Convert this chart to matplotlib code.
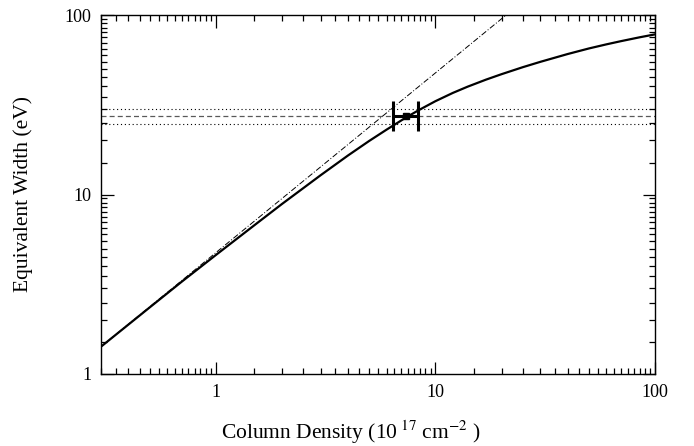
import numpy as np
import matplotlib
matplotlib.use("Agg")
import matplotlib.pyplot as plt
from matplotlib.ticker import FixedFormatter, FixedLocator, NullFormatter

plt.rcParams["font.family"] = ["Liberation Serif", "DejaVu Serif"]
plt.rcParams["mathtext.fontset"] = "stix"

# curve of growth
col_density = [0.3, 0.5, 0.7, 1.0, 1.5, 2.0, 3.0, 4.0, 5.0, 6.0, 7.4, 8.5, 10.0,
               12.0, 14.0, 17.0, 20.0, 25.0, 30.0, 40.0, 50.0, 60.0, 70.0, 85.0, 100.0]
eq_width = [1.42, 2.35, 3.27, 4.6, 6.75, 8.85, 12.8, 16.5, 19.9, 23.0, 27.0, 29.75, 33.1,
            36.8, 39.85, 43.65, 46.8, 51.2, 54.8, 60.6, 65.1, 68.6, 71.5, 75.1, 78.0]

# linear (optically thin) relation
linear_x = [0.3, 21.0]
linear_y = [1.42, 100.0]

# measured width with its range
meas_w = 27.2
meas_w_lo = 24.6
meas_w_hi = 29.8
meas_n = 7.35
meas_n_lo = 6.43
meas_n_hi = 8.35

xticks = [1, 10, 100]
xtick_labels = ["1", "10", "100"]
yticks = [1, 10, 100]
ytick_labels = ["1", "10", "100"]

fig = plt.figure(figsize=(6.94, 4.46), dpi=100)
ax = fig.add_axes([101 / 694, 1 - 374 / 446, 554 / 694, 359 / 446])

ax.axhline(meas_w, color="0.35", lw=0.9, ls=(0, (4, 2.5)))
ax.axhline(meas_w_lo, color="black", lw=0.8, ls=(0, (1, 2.5)))
ax.axhline(meas_w_hi, color="black", lw=0.8, ls=(0, (1, 2.5)))

ax.plot(linear_x, linear_y, color="black", lw=0.7, ls=(0, (6, 2, 1, 2)))
ax.plot(col_density, eq_width, color="black", lw=1.6)

ax.errorbar([meas_n], [meas_w],
            xerr=[[meas_n - meas_n_lo], [meas_n_hi - meas_n]],
            fmt="s", ms=4, color="black", ecolor="black",
            elinewidth=2.2, capsize=11, capthick=2.2)

ax.set_xscale("log")
ax.set_yscale("log")
ax.set_xlim(0.3, 100)
ax.set_ylim(1, 100)

# minor ticks every half unit inside each decade
subs = np.arange(1.5, 10.0, 0.5)
minor_pos = np.concatenate([subs * d for d in (0.1, 1.0, 10.0)])
ax.xaxis.set_minor_locator(FixedLocator(minor_pos[(minor_pos > 0.3) & (minor_pos < 100)]))
ax.yaxis.set_minor_locator(FixedLocator(minor_pos[(minor_pos > 1) & (minor_pos < 100)]))
ax.xaxis.set_minor_formatter(NullFormatter())
ax.yaxis.set_minor_formatter(NullFormatter())
ax.xaxis.set_major_locator(FixedLocator(xticks))
ax.xaxis.set_major_formatter(FixedFormatter(xtick_labels))
ax.yaxis.set_major_locator(FixedLocator(yticks))
ax.yaxis.set_major_formatter(FixedFormatter(ytick_labels))

ax.tick_params(which="both", direction="in", top=True, right=True, width=0.9)
ax.tick_params(which="major", length=9, labelsize=13, pad=7)
ax.tick_params(which="minor", length=4.5)
for sp in ax.spines.values():
    sp.set_linewidth(1.0)

ax.set_xlabel(r"Column Density (10$^{\ 17}$ cm$^{-2}$ )", fontsize=15.5)
ax.set_ylabel("Equivalent Width (eV)", fontsize=15.5)
ax.xaxis.label.set_va("baseline")
ax.xaxis.set_label_coords(0.451, -0.181)
ax.yaxis.set_label_coords(-0.122, 0.5)

fig.savefig("out.png", dpi=100)
